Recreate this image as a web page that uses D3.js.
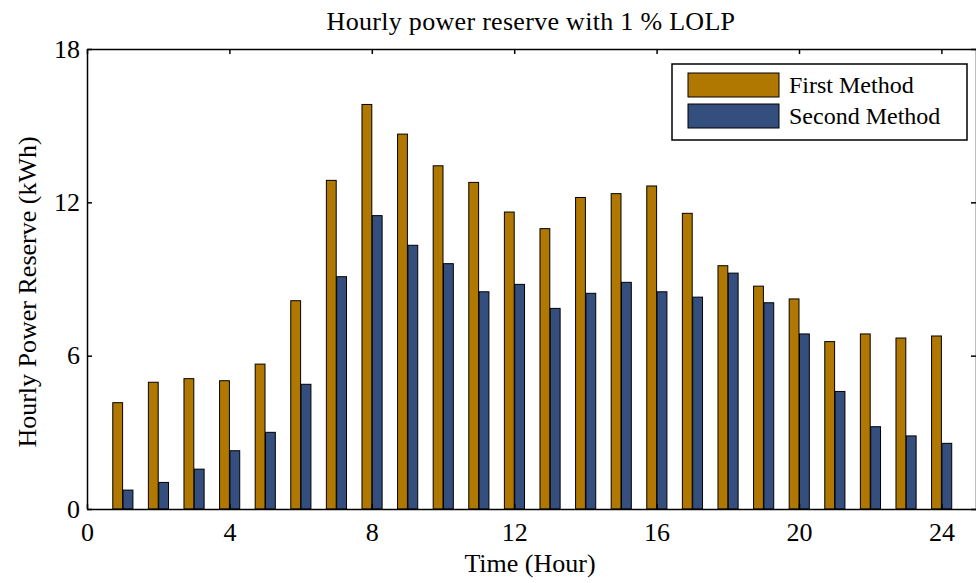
<!DOCTYPE html>
<html>
<head>
<meta charset="utf-8">
<script src="https://cdn.jsdelivr.net/npm/d3@7"></script>
<style>
  body { margin: 0; background: #fff; }
  text { font-family: "Liberation Serif", "Times New Roman", serif; fill: #000; }
</style>
</head>
<body>
<svg id="chart" width="976" height="583"></svg>
<script>
// data
var hours = d3.range(1, 25);
var firstMethod = [4.16, 4.96, 5.10, 5.02, 5.67, 8.15, 12.86, 15.83, 14.67, 13.43, 12.78, 11.62,
                   10.97, 12.19, 12.34, 12.64, 11.57, 9.52, 8.72, 8.22, 6.55, 6.85, 6.69, 6.77];
var secondMethod = [0.74, 1.04, 1.56, 2.28, 3.00, 4.88, 9.09, 11.48, 10.32, 9.60, 8.50, 8.79,
                    7.85, 8.44, 8.87, 8.50, 8.29, 9.23, 8.07, 6.85, 4.60, 3.22, 2.86, 2.57];
var xTicks = [0, 4, 8, 12, 16, 20, 24];
var yTicks = [0, 6, 12, 18];
var seriesNames = ["First Method", "Second Method"];
var colors = ["#b07800", "#344e7e"];

var margin = {left: 87, top: 49, right: 977, bottom: 509};

var svg = d3.select("#chart");

var x = d3.scaleLinear().domain([0, 25]).range([margin.left, margin.right]);
var y = d3.scaleLinear().domain([0, 18]).range([margin.bottom, margin.top]);

// each bar is this wide in hour units
var barW = 0.29;

var series = [firstMethod, secondMethod];
series.forEach(function(vals, s) {
  svg.append("g").selectAll("rect")
    .data(vals)
    .enter().append("rect")
      .attr("x", function(d, i) { return x(hours[i] - barW + s * barW) + 0.5; })
      .attr("width", x(barW) - x(0) - 0.5)
      .attr("y", function(d) { return y(d); })
      .attr("height", function(d) { return y(0) - y(d); })
      .attr("fill", colors[s])
      .attr("stroke", "#000")
      .attr("stroke-width", 1);
});

// axes (ticks point inward, box style)
var axBottom = svg.append("g").attr("transform", "translate(0," + margin.bottom + ")")
  .call(d3.axisBottom(x).tickValues(xTicks).tickSizeInner(-5).tickSizeOuter(0));
var axTop = svg.append("g").attr("transform", "translate(0," + margin.top + ")")
  .call(d3.axisTop(x).tickValues(xTicks).tickSizeInner(-5).tickSizeOuter(0).tickFormat(""));
var axLeft = svg.append("g").attr("transform", "translate(" + margin.left + ",0)")
  .call(d3.axisLeft(y).tickValues(yTicks).tickSizeInner(-5).tickSizeOuter(0).tickPadding(7));
var axRight = svg.append("g").attr("transform", "translate(" + (margin.right - 1) + ",0)")
  .call(d3.axisRight(y).tickValues(yTicks).tickSizeInner(-5).tickSizeOuter(0).tickFormat(""));

[axBottom, axTop, axLeft, axRight].forEach(function(g) {
  g.attr("font-family", null).attr("font-size", null);
  g.selectAll("path").attr("stroke", "#000").attr("stroke-width", 1.5);
  g.selectAll("line").attr("stroke", "#000").attr("stroke-width", 1.5);
  g.selectAll("text").style("font-size", "26px");
});
axBottom.selectAll("text").attr("y", 32).attr("dy", 0);
axLeft.selectAll("text").attr("dy", "0.32em");

// title and axis labels
svg.append("text")
  .attr("x", 531)
  .attr("y", 30)
  .attr("text-anchor", "middle")
  .style("font-size", "26px")
  .style("letter-spacing", "0.3px")
  .text("Hourly power reserve with 1 %  LOLP");

svg.append("text")
  .attr("x", 530)
  .attr("y", 572)
  .attr("text-anchor", "middle")
  .style("font-size", "26px")
  .text("Time (Hour)");

svg.append("text")
  .attr("transform", "translate(36,292) rotate(-90)")
  .attr("text-anchor", "middle")
  .style("font-size", "26px")
  .text("Hourly Power Reserve (kWh)");

// legend
var legend = svg.append("g").attr("transform", "translate(672,64)");
legend.append("rect")
  .attr("width", 295).attr("height", 76)
  .attr("fill", "#fff").attr("stroke", "#000").attr("stroke-width", 1.5);
seriesNames.forEach(function(name, i) {
  legend.append("rect")
    .attr("x", 16).attr("y", 9 + i * 31)
    .attr("width", 91).attr("height", 24)
    .attr("fill", colors[i]).attr("stroke", "#000").attr("stroke-width", 1);
  legend.append("text")
    .attr("x", 117).attr("y", 21 + i * 31)
    .attr("dy", "0.35em")
    .style("font-size", "24px")
    .text(name);
});
</script>
</body>
</html>
